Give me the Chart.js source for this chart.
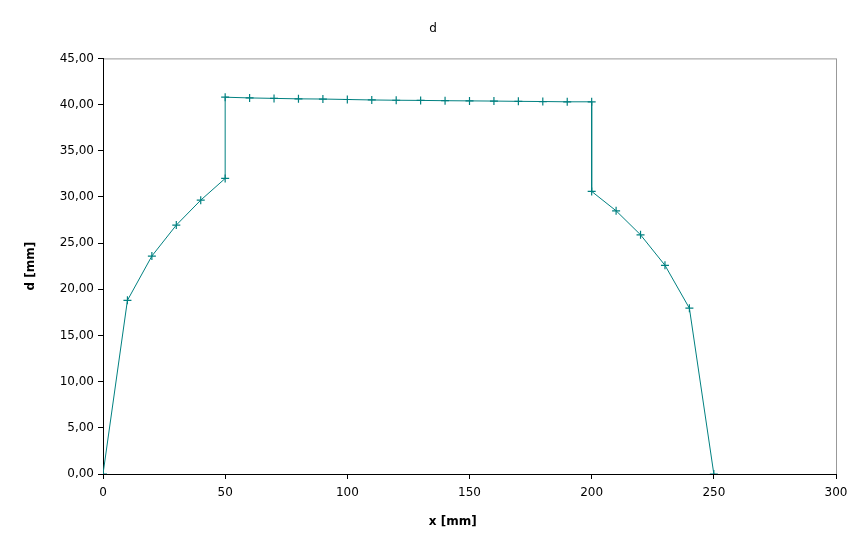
<!DOCTYPE html>
<html>
<head>
<meta charset="utf-8">
<script src="https://cdn.jsdelivr.net/npm/chart.js@4"></script>
<style>
  html, body { margin: 0; padding: 0; background: #fff; }
  #wrap { width: 866px; height: 548px; }
</style>
</head>
<body>
<div id="wrap"><canvas id="chart1"></canvas></div>
<script>
// positions along the part [mm] and measured d [mm]
const xValues = [0, 10, 20, 30, 40, 50, 50, 60, 70, 80, 90, 100, 110, 120, 130, 140, 150, 160, 170, 180, 190, 200, 200, 210, 220, 230, 240, 250];
const dValues = [0, 18.8, 23.6, 26.95, 29.65, 32.0, 40.8, 40.72, 40.67, 40.62, 40.6, 40.55, 40.5, 40.47, 40.45, 40.42, 40.4, 40.38, 40.35, 40.33, 40.3, 40.3, 30.6, 28.5, 25.9, 22.6, 17.95, 0];

const xTicks = [0, 50, 100, 150, 200, 250, 300];
const yTicks = [0, 5, 10, 15, 20, 25, 30, 35, 40, 45];

const points = xValues.map((x, i) => ({ x: x, y: dValues[i] }));

Chart.defaults.font.family = 'DejaVu Sans';
Chart.defaults.font.size = 12;
Chart.defaults.color = '#000';

// grey frame on top and right, black axes get drawn over it
const framePlugin = {
    id: 'frame',
    beforeDraw(chart) {
        const a = chart.chartArea;
        const c = chart.ctx;
        c.save();
        c.strokeStyle = '#999';
        c.lineWidth = 1;
        c.strokeRect(a.left + 0.5, a.top + 0.5, a.right - a.left, a.bottom - a.top);
        c.restore();
    }
};

const ctx = document.getElementById('chart1').getContext('2d');
new Chart(ctx, {
    type: 'scatter',
    data: {
        datasets: [{
            label: 'd',
            data: points,
            showLine: true,
            borderColor: '#008080',
            backgroundColor: '#008080',
            borderWidth: 1,
            pointStyle: 'cross',
            pointRadius: 4,
            pointBorderWidth: 1.2,
            pointHoverRadius: 4
        }]
    },
    options: {
        responsive: true,
        maintainAspectRatio: false,
        animation: false,
        layout: { padding: { left: 20, right: 20, top: 0, bottom: 15 } },
        plugins: {
            legend: { display: false },
            tooltip: { enabled: false },
            title: {
                display: true,
                text: 'd',
                font: { size: 12, weight: 'normal' },
                padding: { top: 22, bottom: 22 }
            }
        },
        scales: {
            x: {
                type: 'linear',
                min: 0,
                max: 300,
                afterBuildTicks: s => { s.ticks = xTicks.map(v => ({ value: v })); },
                afterFit: s => { s.height = 59; },
                grid: { display: true, drawOnChartArea: false, drawTicks: true, tickLength: 5, color: '#000' },
                border: { display: true, color: '#000' },
                ticks: { padding: 7, maxRotation: 0 },
                // trailing nbsp pushes the title a bit left of the plot centre, like the original
                title: { display: true, text: 'x [mm]' + '\u00a0'.repeat(8), font: { weight: 'bold' }, padding: 4 }
            },
            y: {
                type: 'linear',
                min: 0,
                max: 45,
                afterBuildTicks: s => { s.ticks = yTicks.map(v => ({ value: v })); },
                afterFit: s => { s.width = 83; },
                grid: { display: true, drawOnChartArea: false, drawTicks: true, tickLength: 5, color: '#000' },
                border: { display: true, color: '#000' },
                ticks: {
                    padding: 4,
                    callback: v => v.toFixed(2).replace('.', ',')
                },
                title: { display: true, text: 'd [mm]', font: { weight: 'bold' }, padding: 4 }
            },
            // empty axis on the right, only keeps the plot clear of the edge
            yRight: {
                position: 'right',
                display: true,
                afterFit: s => { s.width = 10; },
                grid: { display: false },
                border: { display: false },
                ticks: { display: false },
                title: { display: false }
            }
        }
    },
    plugins: [framePlugin]
});
</script>
</body>
</html>
